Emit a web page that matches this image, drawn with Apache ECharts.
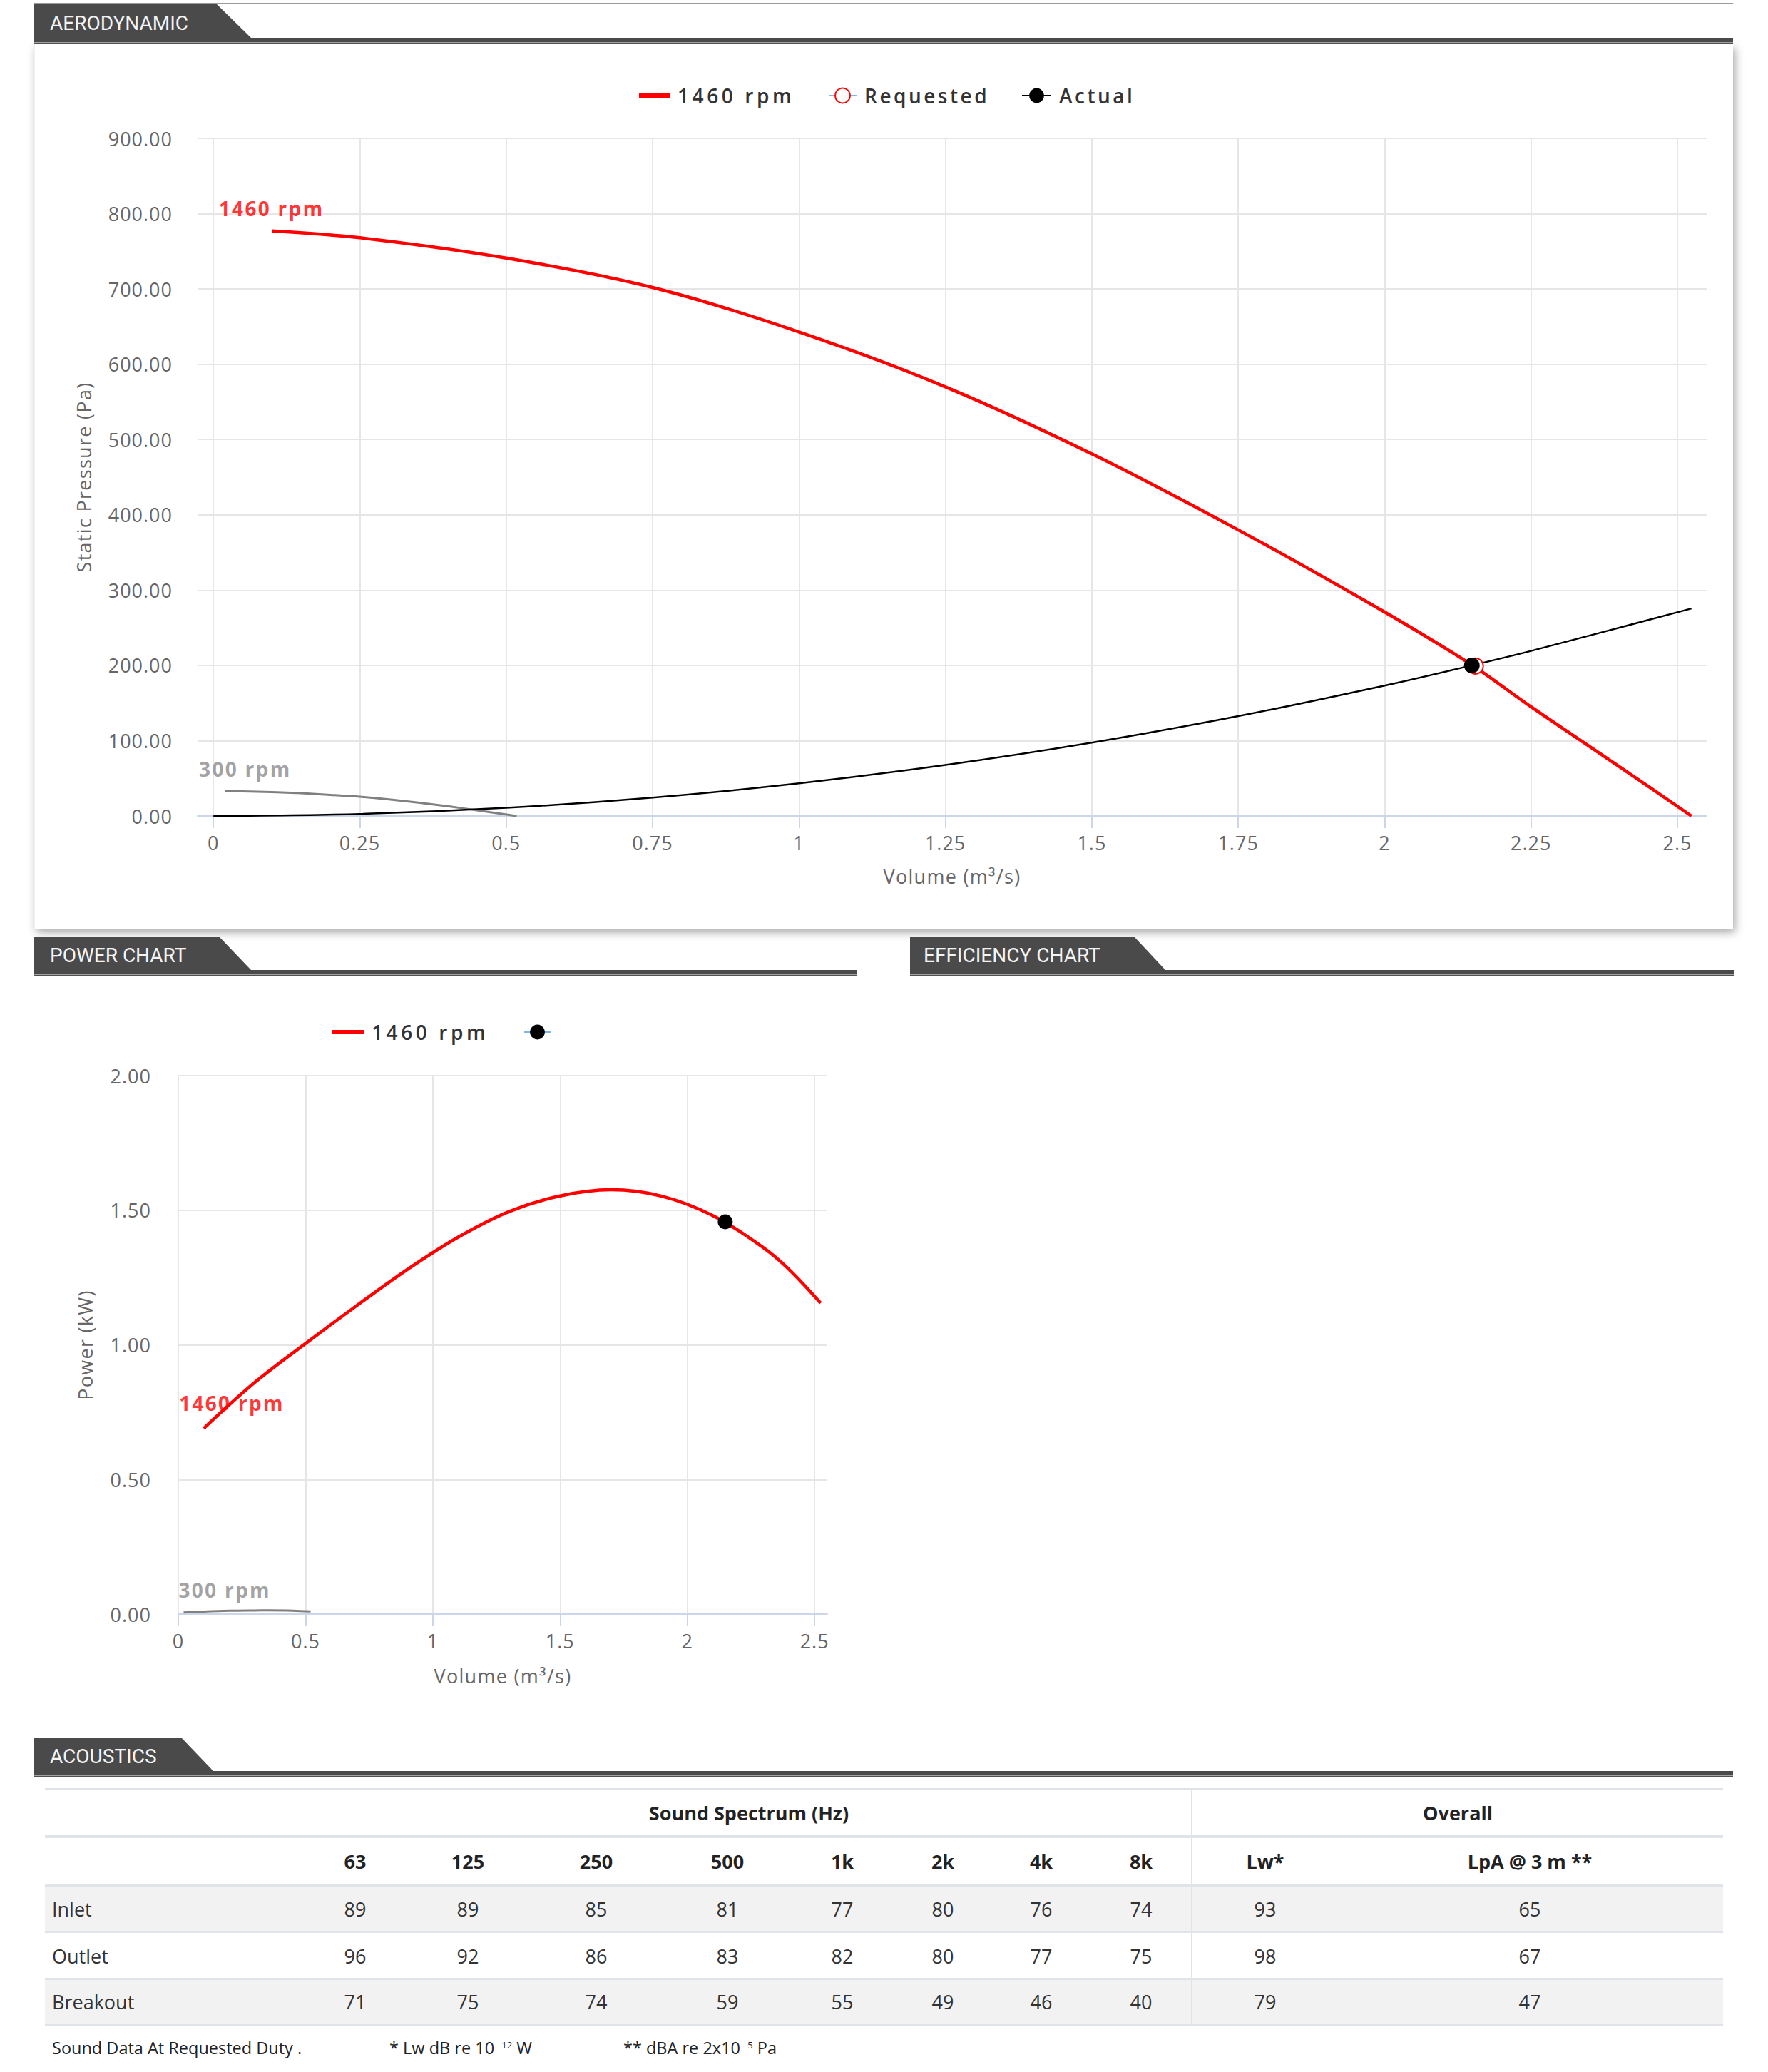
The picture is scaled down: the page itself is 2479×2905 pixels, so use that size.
<!DOCTYPE html>
<html>
<head>
<meta charset="utf-8">
<title>Fan performance</title>
<script src="https://cdn.jsdelivr.net/npm/echarts@6.0.0/dist/echarts.min.js"></script>
<style>
  html, body { margin:0; padding:0; background:#fff; }
  body { position:relative; width:2479px; height:2905px; overflow:hidden; font-family:'Open Sans', sans-serif; }
  .tab { position:absolute; background:#4a4a4a; }
  .bar { position:absolute; height:9px; background:linear-gradient(to bottom,#4a4a4a 0,#4a4a4a 6px,#a3a3a3 6px,#a3a3a3 7px,#505050 7px,#505050 9px); }
  .tabtext { position:absolute; height:40px; line-height:40px; color:#f3f3f3; font-family:Roboto, sans-serif; font-size:28px; white-space:nowrap; }
  .panel { position:absolute; left:48px; top:62px; width:2382px; height:1240px; background:#fff; box-shadow:3px 5px 12px rgba(0,0,0,0.35); border-left:1px solid #f0f0f0; box-sizing:border-box; }
  .chart { position:absolute; }
  .cell { position:absolute; transform:translate(-50%,-50%); white-space:nowrap; font-size:27px; color:#333; line-height:34px; font-weight:500; }
  .cellL { position:absolute; transform:translate(0,-50%); white-space:nowrap; font-size:27px; color:#333; line-height:34px; font-weight:500; }
  .hd { font-weight:700; color:#222; }
  .hline { position:absolute; left:63px; width:2353px; background:#e0e3e8; }
  .rowbg { position:absolute; left:63px; width:2353px; background:#f2f2f2; }
  .foot { position:absolute; transform:translate(0,-50%); white-space:nowrap; font-size:23.5px; color:#222; line-height:30px; }
  .foot sup { font-size:13px; vertical-align:8px; line-height:0; }
</style>
</head>
<body>
<!-- section headers -->
<div style="position:absolute;left:48px;top:4px;width:2382px;height:2px;background:#9a9a9a;"></div>

<div class="panel"></div>

<div class="tab" style="left:48px;top:6px;width:304px;height:47px;clip-path:polygon(0 0,256px 0,304px 47px,0 47px);"></div>
<div class="bar" style="left:48px;top:53px;width:2382px;"></div>
<div class="tabtext" style="left:70px;top:13px;">AERODYNAMIC</div>

<div class="tab" style="left:48px;top:1313px;width:304px;height:47px;clip-path:polygon(0 0,259px 0,304px 47px,0 47px);"></div>
<div class="bar" style="left:48px;top:1360px;width:1154px;"></div>
<div class="tabtext" style="left:70px;top:1320px;">POWER CHART</div>

<div class="tab" style="left:1276px;top:1313px;width:358px;height:47px;clip-path:polygon(0 0,314px 0,358px 47px,0 47px);"></div>
<div class="bar" style="left:1276px;top:1360px;width:1155px;"></div>
<div class="tabtext" style="left:1295px;top:1320px;">EFFICIENCY CHART</div>

<div class="tab" style="left:48px;top:2437px;width:251px;height:46px;clip-path:polygon(0 0,207px 0,251px 46px,0 46px);"></div>
<div class="bar" style="left:48px;top:2483px;width:2382px;"></div>
<div class="tabtext" style="left:70px;top:2443px;">ACOUSTICS</div>

<div id="aero" class="chart" style="left:48px;top:62px;width:2382px;height:1240px;"></div>
<div id="power" class="chart" style="left:48px;top:1369px;width:1154px;height:1040px;"></div>
<div id="acoustics"></div>

<script>
// ---------------- DATA ----------------
// Aerodynamic chart: fan curve at 1460 rpm (volume m3/s, static pressure Pa)
const aeroQ1460 = [0.10, 0.25, 0.50, 0.75, 1.00, 1.25, 1.50, 1.75, 2.00, 2.15, 2.25, 2.40, 2.524];
const aeroP1460 = [777, 768, 741, 702, 643, 570, 481, 380, 271, 200, 145, 66, 0];
// fan curve at 300 rpm
const aeroQ300 = [0.02, 0.05, 0.10, 0.15, 0.20, 0.25, 0.30, 0.35, 0.40, 0.45, 0.518];
const aeroP300 = [33, 32.6, 31.8, 30.2, 28, 25.5, 22, 17.8, 13, 7.5, 0];
// system curve ("Actual")
const sysQ = [0, 0.25, 0.50, 0.75, 1.00, 1.25, 1.50, 1.75, 2.00, 2.149, 2.25, 2.50, 2.524];
const sysP = [0, 2.7, 10.8, 24.4, 43.3, 67.7, 97.4, 132.6, 173.2, 200, 219.2, 270.6, 275.6];
// duty points
const requestedPoint = [2.155, 199];
const actualPoint = [2.149, 200];

// Power chart (volume m3/s, power kW)
const powQ1460 = [0.10, 0.30, 0.50, 0.70, 0.90, 1.10, 1.30, 1.50, 1.70, 1.90, 2.10, 2.30, 2.40, 2.524];
const powP1460 = [0.690, 0.860, 1.005, 1.145, 1.280, 1.400, 1.495, 1.553, 1.576, 1.552, 1.480, 1.360, 1.280, 1.155];
const powQ300 = [0.021, 0.10, 0.20, 0.30, 0.35, 0.45, 0.52];
const powP300 = [0.006, 0.0095, 0.0125, 0.0135, 0.0137, 0.0128, 0.0100];
const actualPowerPoint = [2.149, 1.457];

// tick labels
const aeroXTicks = [0, 0.25, 0.5, 0.75, 1, 1.25, 1.5, 1.75, 2, 2.25, 2.5];
const powXTicks = [0, 0.5, 1, 1.5, 2, 2.5];

// Acoustics table
const freqBands = ['63', '125', '250', '500', '1k', '2k', '4k', '8k'];
const overallHeads = ['Lw*', 'LpA @ 3 m **'];
const rowNames = ['Inlet', 'Outlet', 'Breakout'];
const inletValues = [89, 89, 85, 81, 77, 80, 76, 74, 93, 65];
const outletValues = [96, 92, 86, 83, 82, 80, 77, 75, 98, 67];
const breakoutValues = [71, 75, 74, 59, 55, 49, 46, 40, 79, 47];

// ---------------- HELPERS ----------------
const zip = (q, p) => q.map((x, i) => [x, p[i]]);
const FONT = "'Open Sans', sans-serif";
const axisText = { color: '#666', fontSize: 27, fontFamily: FONT };
const legendText = { color: '#333', fontSize: 28, fontWeight: 600, fontFamily: FONT, lineHeight: 26, padding: [0, 0, 0, 6] };

const legendNames = new Set(['1460 rpm', 'Requested', 'Actual', '300 rpm']);
const axisNames = new Set(['Volume (m³/s)', 'Static Pressure (Pa)', 'Power (kW)']);
function applySpacing(chart) {
  const root = chart.getDom();
  root.querySelectorAll('text').forEach(t => {
    const s = t.textContent;
    const st = t.getAttribute('style') || '';
    let ls = 1;
    if (legendNames.has(s)) {
      if (/bold|700/.test(st)) ls = 2.3;
      else ls = (s === '1460 rpm') ? 4.6 : 3.5;
    } else if (axisNames.has(s)) ls = 1.3;
    t.style.letterSpacing = ls + 'px';
  });
}

function xAxisCfg(min, max, ticks, nameGap) {
  return {
    type: 'value', min: min, max: max,
    axisLine: { show: true, onZero: false, lineStyle: { color: '#ccd6eb', width: 2 } },
    axisTick: { show: true, customValues: ticks, length: 17, lineStyle: { color: '#ccd6eb', width: 2 } },
    axisLabel: Object.assign({ customValues: ticks, formatter: v => String(v), margin: 24 }, axisText),
    splitLine: { show: true, lineStyle: { color: '#e6e6e6', width: 2 } },
    name: 'Volume (m³/s)', nameLocation: 'middle', nameGap: nameGap, nameMoveOverlap: false,
    nameTextStyle: { color: '#666', fontSize: 27, fontFamily: FONT }
  };
}
function yAxisCfg(max, interval, margin, name, nameGap) {
  return {
    type: 'value', min: 0, max: max, interval: interval,
    axisLine: { show: false }, axisTick: { show: false },
    axisLabel: Object.assign({ formatter: v => v.toFixed(2), margin: margin }, axisText),
    splitLine: { show: true, lineStyle: { color: '#e6e6e6', width: 2 } },
    name: name, nameLocation: 'middle', nameGap: nameGap, nameMoveOverlap: false,
    nameTextStyle: { color: '#666', fontSize: 27, fontFamily: FONT }
  };
}
function labelSeries(pt, text, color, offset) {
  return {
    type: 'scatter', data: [pt], symbol: 'circle', symbolSize: 1, silent: true, z: 6,
    itemStyle: { color: 'rgba(0,0,0,0)' },
    label: { show: true, formatter: text, position: offset, align: 'left', verticalAlign: 'middle',
             color: color, fontSize: 28, fontWeight: 'bold', fontFamily: FONT }
  };
}

// ---------------- AERODYNAMIC ----------------
const aero = echarts.init(document.getElementById('aero'), null, { renderer: 'svg' });
aero.setOption({
  animation: false,
  grid: { left: 229, right: 37, top: 132, bottom: 158, outerBoundsMode: 'none' },
  legend: [
    { left: 848, top: 58, padding: 0, selectedMode: false, itemWidth: 43, itemHeight: 6,
      data: [{ name: '1460 rpm', icon: 'rect' }], textStyle: legendText },
    { left: 1113, top: 58, padding: 0, selectedMode: false, itemWidth: 39, itemHeight: 26,
      data: ['Requested'], textStyle: legendText },
    { left: 1384, top: 58, padding: 0, selectedMode: false, itemWidth: 41, itemHeight: 26,
      data: ['Actual'], textStyle: legendText }
  ],
  xAxis: xAxisCfg(-0.027, 2.55, aeroXTicks, 71),
  yAxis: yAxisCfg(900, 100, 35, 'Static Pressure (Pa)', 146),
  series: [
    { name: '1460 rpm', type: 'line', data: zip(aeroQ1460, aeroP1460), smooth: 0.3, symbol: 'none',
      color: '#ff0000', itemStyle: { color: '#ff0000' }, lineStyle: { color: '#ff0000', width: 4.5 }, z: 2 },
    { name: '300 rpm', type: 'line', data: zip(aeroQ300, aeroP300), smooth: 0.3, symbol: 'none',
      color: '#808080', lineStyle: { color: '#808080', width: 3 }, z: 2 },
    { name: 'Requested', type: 'line', data: [requestedPoint], symbol: 'emptyCircle', symbolSize: 22,
      itemStyle: { color: '#ff0000', borderColor: '#ff0000', borderWidth: 2 },
      lineStyle: { color: '#7cb5ec', width: 2 }, z: 4 },
    { name: 'Actual', type: 'line', data: [actualPoint], symbol: 'circle', symbolSize: 22,
      itemStyle: { color: '#000' }, lineStyle: { color: '#000', width: 2.5 }, z: 5 },
    { name: 'Actual', type: 'line', data: zip(sysQ, sysP), smooth: 0.3, symbol: 'none',
      color: '#000', lineStyle: { color: '#000', width: 2.5 }, z: 3 },
    labelSeries([aeroQ1460[0], aeroP1460[0]], '1460 rpm', '#ff0000', [-74, -31.5]),
    labelSeries([aeroQ300[0], aeroP300[0]], '300 rpm', '#8a8a8a', [-36, -31])
  ]
});

// ---------------- POWER ----------------
const power = echarts.init(document.getElementById('power'), null, { renderer: 'svg' });
power.setOption({
  animation: false,
  grid: { left: 202, right: 42, top: 139, bottom: 146, outerBoundsMode: 'none' },
  legend: [
    { left: 418, top: 64, padding: 0, selectedMode: false, itemWidth: 44, itemHeight: 6,
      data: [{ name: '1460 rpm', icon: 'rect' }], textStyle: legendText },
    { left: 686, top: 64, padding: 0, selectedMode: false, itemWidth: 37, itemHeight: 26,
      data: [' '], textStyle: legendText }
  ],
  xAxis: xAxisCfg(0, 2.55, powXTicks, 73),
  yAxis: yAxisCfg(2, 0.5, 38, 'Power (kW)', 117),
  series: [
    { name: '1460 rpm', type: 'line', data: zip(powQ1460, powP1460), smooth: 0.35, symbol: 'none',
      color: '#ff0000', itemStyle: { color: '#ff0000' }, lineStyle: { color: '#ff0000', width: 4.5 }, z: 2 },
    { name: '300 rpm', type: 'line', data: zip(powQ300, powP300), smooth: 0.3, symbol: 'none',
      color: '#808080', lineStyle: { color: '#808080', width: 3 }, z: 2 },
    { name: ' ', type: 'line', data: [actualPowerPoint], symbol: 'circle', symbolSize: 21,
      itemStyle: { color: '#000' }, lineStyle: { color: '#7cb5ec', width: 2 }, z: 5 },
    labelSeries([powQ1460[0], powP1460[0]], '1460 rpm', '#ff0000', [-34, -35]),
    labelSeries([powQ300[0], powP300[0]], '300 rpm', '#8a8a8a', [-6.5, -31])
  ]
});

[aero, power].forEach(c => {
  applySpacing(c);
  c.on('finished', () => applySpacing(c));
  setTimeout(() => applySpacing(c), 50);
});

// ---------------- ACOUSTICS TABLE ----------------
(function buildTable() {
  const host = document.getElementById('acoustics');
  const add = (cls, style, html) => {
    const d = document.createElement('div');
    d.className = cls; d.setAttribute('style', style);
    if (html != null) d.innerHTML = html;
    host.appendChild(d);
  };
  const colX = [498, 656, 836, 1020, 1181, 1322, 1460, 1600, 1774, 2145];
  const rowY = [2677, 2743, 2807];
  // row backgrounds
  add('rowbg', 'top:2646px;height:61px;');
  add('rowbg', 'top:2776px;height:62px;');
  // horizontal rules
  [[2507, 3], [2573, 4], [2641, 5], [2707, 3], [2773, 3], [2838, 3]].forEach(r =>
    add('hline', `top:${r[0]}px;height:${r[1]}px;`));
  // vertical divider
  add('', 'position:absolute;left:1670px;top:2507px;width:2px;height:334px;background:#e0e3e8;');
  // header row 1
  add('cell hd', 'left:1050px;top:2542px;', 'Sound Spectrum (Hz)');
  add('cell hd', 'left:2044px;top:2542px;', 'Overall');
  // header row 2
  freqBands.concat(overallHeads).forEach((h, i) => add('cell hd', `left:${colX[i]}px;top:2610px;`, h));
  // data rows
  const rows = [inletValues, outletValues, breakoutValues];
  rows.forEach((vals, r) => {
    add('cellL', `left:73px;top:${rowY[r]}px;`, rowNames[r]);
    vals.forEach((v, i) => add('cell', `left:${colX[i]}px;top:${rowY[r]}px;`, String(v)));
  });
  // footnotes
  add('foot', 'left:73px;top:2871px;', 'Sound Data At Requested Duty .');
  add('foot', 'left:546px;top:2871px;', '* Lw dB re 10 <sup>-12</sup> W');
  add('foot', 'left:874px;top:2871px;', '** dBA re 2x10 <sup>-5</sup> Pa');
})();
</script>
</body>
</html>
